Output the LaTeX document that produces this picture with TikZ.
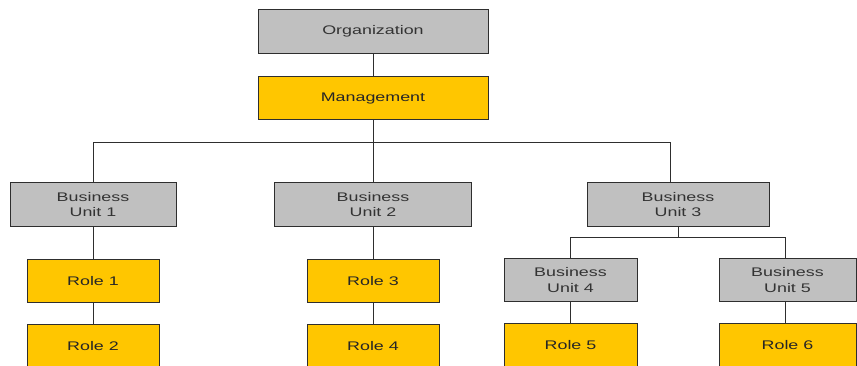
\documentclass[tikz,border=0pt]{standalone}
\usepackage{fontspec}
\setmainfont{Liberation Sans}[FakeStretch=1.43]
\usetikzlibrary{positioning}

\definecolor{boxgrey}{HTML}{C0C0C0}
\definecolor{boxyellow}{HTML}{FFC600}
\definecolor{edgegrey}{HTML}{2E2E2E}
\definecolor{textgrey}{HTML}{333333}

\begin{document}
\begin{tikzpicture}[x=1pt,y=-1pt,
       unit/.style={
         rectangle,
         draw=edgegrey,
         fill=boxgrey,
         line width=1pt,
         inner sep=0pt,
         minimum height=43.5pt,
         align=center,
         text=textgrey,
         font=\fontsize{12.5}{15.5}\selectfont},
       role/.style={
         rectangle,
         draw=edgegrey,
         fill=boxyellow,
         line width=1pt,
         inner sep=0pt,
         minimum height=43.5pt,
         align=center,
         text=black!85,
         font=\fontsize{12.5}{15.5}\selectfont},
       link/.style = {draw=edgegrey, line width=1pt},
node distance=21pt and 5pt
      ]
      \useasboundingbox (0,0) rectangle (857,365);

      \node[unit, minimum width=230pt] at (373,31.5) (org) {Organization};
      \node[role, minimum width=230pt, below = 22pt of org] (mgmt) {Management};

      \node[unit, minimum width=166pt] at (93,204.5) (bu1) {Business\\Unit 1};
      \node[unit, minimum width=197pt] at (373,204.5) (bu2) {Business\\Unit 2};
      \node[unit, minimum width=182pt] at (678,204.5) (bu3) {Business\\Unit 3};

      \node[role, minimum width=132pt, below = 32pt of bu1] (r1) {Role 1};
      \node[role, minimum width=132pt, below = of r1] (r2) {Role 2};
      \node[role, minimum width=132pt, below = 32pt of bu2] (r3) {Role 3};
      \node[role, minimum width=132pt, below = of r3] (r4) {Role 4};

      \node[unit, minimum width=133pt] at (570.5,280) (bu4) {Business\\Unit 4};
      \node[unit, minimum width=137pt] at (787.5,280) (bu5) {Business\\Unit 5};
      \node[role, minimum width=133pt, below = of bu4] (r5) {Role 5};
      \node[role, minimum width=137pt, below = of bu5] (r6) {Role 6};

      \draw[link] (org) -- (mgmt);
      \draw[link] (mgmt.south) -- ++(0,22) -| (bu1.north);
      \draw[link] (mgmt.south) -- (bu2.north);
      \draw[link] (mgmt.south) -- ++(0,22) -| ([xshift=-8pt]bu3.north);
      \draw[link] (bu1) -- (r1);
      \draw[link] (r1) -- (r2);
      \draw[link] (bu2) -- (r3);
      \draw[link] (r3) -- (r4);
      \draw[link] (bu3.south) -- ++(0,11) -| (bu4.north);
      \draw[link] (bu3.south) -- ++(0,11) -| ([xshift=-2pt]bu5.north);
      \draw[link] (bu4) -- (r5);
      \draw[link] ([xshift=-2pt]bu5.south) -- ([xshift=-2pt]r6.north);

\end{tikzpicture}
\end{document}
